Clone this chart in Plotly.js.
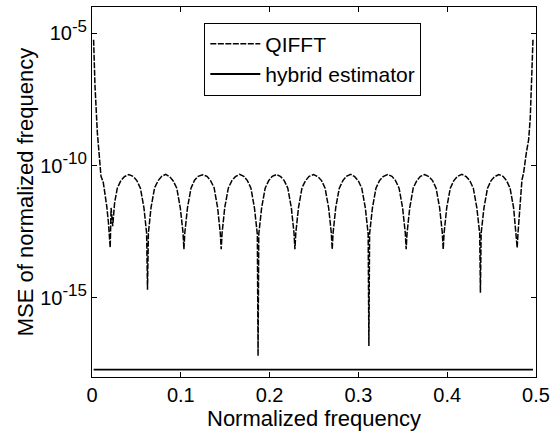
<!DOCTYPE html>
<html>
<head>
<meta charset="utf-8">
<script src="https://cdn.plot.ly/plotly-3.0.1.min.js"></script>
<style>html,body{margin:0;padding:0;background:#fff;}#chart{width:551px;height:432px;}</style>
</head>
<body>
<div id="chart"></div>
<script>
// Normalized frequency samples for the QIFFT curve
const qifftFreq = [
  0.0018, 0.0034, 0.006, 0.0079, 0.0101, 0.0127, 0.0146, 0.0166, 0.0185, 0.0205,
  0.0215, 0.0233, 0.0255, 0.0285, 0.0325, 0.0365, 0.0415, 0.0465, 0.0505, 0.0545, 0.0585, 0.0615, 0.0625,
  0.0635, 0.0665, 0.0705, 0.0745, 0.0785, 0.083, 0.0875, 0.0915, 0.0955, 0.0995, 0.1025, 0.1035,
  0.1045, 0.1075, 0.1115, 0.1155, 0.1195, 0.1245, 0.1295, 0.1335, 0.1375, 0.1415, 0.1445, 0.1455,
  0.1465, 0.1495, 0.1535, 0.1575, 0.1615, 0.1662, 0.171, 0.175, 0.179, 0.183, 0.1862, 0.1870,
  0.1878, 0.191, 0.195, 0.199, 0.203, 0.2078, 0.2125, 0.2165, 0.2205, 0.2245, 0.2275, 0.2285,
  0.2295, 0.2325, 0.2365, 0.2405, 0.2445, 0.2495, 0.2545, 0.2585, 0.2625, 0.2665, 0.2695, 0.2705,
  0.2715, 0.2745, 0.2785, 0.2825, 0.2865, 0.2912, 0.2958, 0.2998, 0.3038, 0.3078, 0.311, 0.3118,
  0.3126, 0.3158, 0.3198, 0.3238, 0.3278, 0.3328, 0.3378, 0.3418, 0.3458, 0.3498, 0.3528, 0.3538,
  0.3548, 0.3578, 0.3618, 0.3658, 0.3698, 0.3746, 0.3795, 0.3835, 0.3875, 0.3915, 0.3945, 0.3955,
  0.3965, 0.3995, 0.4035, 0.4075, 0.4115, 0.4165, 0.4214, 0.4254, 0.4294, 0.4334, 0.4366, 0.4374,
  0.4382, 0.4414, 0.4454, 0.4494, 0.4534, 0.4581, 0.4628, 0.4668, 0.4708, 0.4748, 0.4778, 0.4788,
  0.4798, 0.482, 0.4842, 0.486, 0.4879, 0.4891, 0.4917, 0.4935, 0.495, 0.4966
];
// MSE values of the QIFFT curve
const qifftMse = [
  5.8e-6, 1.0e-7, 1.8e-9, 3.1e-10, 4.0e-11, 2.3e-11, 9.5e-12, 2.9e-12, 7.0e-13, 7.9e-14,
  2.5e-12, 5.1e-13, 4.0e-12, 1.4e-11, 2.7e-11, 3.8e-11, 4.6e-11, 3.9e-11, 2.7e-11, 1.4e-11, 2.5e-12, 2.8e-13, 2.0e-15,
  2.8e-13, 2.6e-12, 1.45e-11, 2.7e-11, 3.9e-11, 4.7e-11, 3.8e-11, 2.6e-11, 1.4e-11, 2.4e-12, 2.9e-13, 6.8e-14,
  2.8e-13, 2.5e-12, 1.4e-11, 2.8e-11, 3.9e-11, 4.5e-11, 3.9e-11, 2.7e-11, 1.45e-11, 2.5e-12, 2.7e-13, 6.8e-14,
  2.8e-13, 2.6e-12, 1.4e-11, 2.7e-11, 3.8e-11, 4.7e-11, 3.9e-11, 2.7e-11, 1.4e-11, 2.4e-12, 2.5e-13, 6.3e-18,
  2.5e-13, 2.5e-12, 1.4e-11, 2.7e-11, 3.9e-11, 4.6e-11, 3.8e-11, 2.7e-11, 1.4e-11, 2.5e-12, 2.8e-13, 6.8e-14,
  2.8e-13, 2.5e-12, 1.45e-11, 2.7e-11, 3.9e-11, 4.6e-11, 3.8e-11, 2.7e-11, 1.4e-11, 2.5e-12, 2.8e-13, 6.8e-14,
  2.8e-13, 2.6e-12, 1.4e-11, 2.7e-11, 3.9e-11, 4.7e-11, 3.8e-11, 2.7e-11, 1.4e-11, 2.5e-12, 2.6e-13, 1.5e-17,
  2.6e-13, 2.5e-12, 1.4e-11, 2.7e-11, 3.8e-11, 4.6e-11, 3.9e-11, 2.7e-11, 1.4e-11, 2.5e-12, 2.8e-13, 6.8e-14,
  2.8e-13, 2.5e-12, 1.45e-11, 2.7e-11, 3.9e-11, 4.6e-11, 3.8e-11, 2.7e-11, 1.4e-11, 2.5e-12, 2.8e-13, 6.8e-14,
  2.8e-13, 2.6e-12, 1.4e-11, 2.7e-11, 3.9e-11, 4.7e-11, 3.8e-11, 2.7e-11, 1.4e-11, 2.5e-12, 2.7e-13, 1.55e-15,
  2.7e-13, 2.5e-12, 1.4e-11, 2.7e-11, 3.8e-11, 4.6e-11, 3.9e-11, 2.7e-11, 1.4e-11, 2.5e-12, 2.8e-13, 7.8e-14,
  3.0e-13, 3.0e-12, 2.9e-11, 5.2e-11, 1.7e-10, 3.0e-10, 9.5e-10, 6.0e-9, 1.6e-7, 5.8e-6
];
// Hybrid estimator: flat line near the bottom
const hybridFreq = [0.0018, 0.4966];
const hybridMse = [1.9e-18, 1.9e-18];

// Tick labels
const xTickVals = [0, 0.1, 0.2, 0.3, 0.4, 0.5];
const xTickText = ['0', '0.1', '0.2', '0.3', '0.4', '0.5'];
const yTickVals = [1e-15, 1e-10, 1e-5];
const yExponents = ['-15', '-10', '-5'];
const yTickText = yExponents.map(e => '10<sup><span style="font-size:17px">' + e + '</span></sup>');

const FONT = 'Liberation Sans, Arial, Helvetica, sans-serif';

const traces = [
  {
    x: qifftFreq, y: qifftMse, type: 'scatter', mode: 'lines', name: 'QIFFT',
    line: {color: '#000', width: 1.5, dash: '6px,1.5px'}
  },
  {
    x: hybridFreq, y: hybridMse, type: 'scatter', mode: 'lines', name: 'hybrid estimator',
    line: {color: '#000', width: 1.8}
  }
];

const axisCommon = {
  showline: true, linecolor: '#000', linewidth: 1, mirror: 'ticks',
  ticks: 'inside', ticklen: 5, tickwidth: 1, tickcolor: '#000',
  showgrid: false, zeroline: false,
  tickfont: {family: FONT, size: 20, color: '#000'}
};

const layout = {
  width: 551, height: 432,
  margin: {l: 92, r: 15, t: 7, b: 55},
  paper_bgcolor: '#fff', plot_bgcolor: '#fff',
  font: {family: FONT, size: 20, color: '#000'},
  showlegend: true,
  legend: {
    x: 0.253, y: 0.958, xanchor: 'left', yanchor: 'top',
    bordercolor: '#000', borderwidth: 1, bgcolor: '#fff',
    itemwidth: 50, tracegroupgap: 0,
    font: {family: FONT, size: 21, color: '#000'}
  },
  xaxis: Object.assign({}, axisCommon, {
    range: [0, 0.5], tickmode: 'array', tickvals: xTickVals, ticktext: xTickText,
    title: {text: 'Normalized frequency', font: {family: FONT, size: 22, color: '#000'}, standoff: 0}
  }),
  yaxis: Object.assign({}, axisCommon, {
    type: 'log', range: [-18, -4], tickmode: 'array', tickvals: yTickVals, ticktext: yTickText,
    title: {text: 'MSE of normalized frequency', font: {family: FONT, size: 22, color: '#000'}, standoff: 0}
  })
};

Plotly.newPlot('chart', traces, layout, {displayModeBar: false, staticPlot: true});
</script>
</body>
</html>
